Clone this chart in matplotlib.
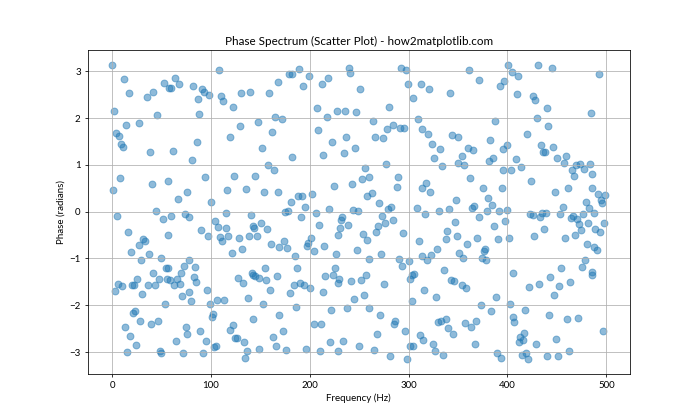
import matplotlib
matplotlib.use("Agg")
import matplotlib.pyplot as plt

plt.rcParams['font.family'] = ['Lato', 'DejaVu Sans']

# 주파수(Hz)와 위상(rad) - 그림에서 읽은 값 (구간별)
freqs = [
    0, 12, 17, 2, 14, 27, 4, 7, 9, 11, 8, 1, 5, 16, 31, 33, 27, 19, 29, 6, 3, 10, 20, 22, 25, 30, 23, 21, 28, 13, 18, 24, 15,
    35, 41, 52, 58, 60, 64, 68, 45, 38, 62, 40, 57, 67, 76, 44, 51, 60, 74, 78, 37, 57, 49, 41, 54, 56, 73, 70, 78, 36,
    43, 47, 55, 59, 66, 63, 69, 71, 78, 53, 46, 39, 75, 76, 65, 48, 49, 72,
    108, 82, 91, 93, 98, 87, 110, 112, 122, 88, 86, 119, 81, 94, 123, 116, 100, 104, 107, 115, 90, 97, 109, 111, 117, 115,
    121, 84, 83, 85, 96, 80, 99, 106, 113, 102, 101, 122, 119, 124, 89, 95, 103, 105, 92,
    168, 130, 139, 159, 129, 148, 165, 162, 152, 158, 164, 145, 135, 154, 168, 140, 142, 144, 151, 157, 128, 138, 147, 131,
    161, 169, 127, 132, 141, 143, 145, 149, 155, 156, 160, 167, 137, 153, 169, 143, 126, 133, 163, 166, 136, 134, 149,
    179, 182, 189, 199, 193, 212, 207, 172, 208, 182, 213, 181, 188, 192, 202, 175, 178, 195, 191, 206, 209, 174, 177, 185,
    198, 197, 201, 204, 214, 187, 184, 190, 194, 200, 180, 213, 186, 215, 173, 204, 211, 176, 196, 210,
    240, 241, 218, 251, 227, 236, 247, 217, 222, 237, 235, 246, 256, 253, 260, 224, 243, 258, 219, 244, 249, 233, 232, 239,
    231, 229, 254, 258, 226, 248, 260, 225, 223, 230, 228, 242, 252, 257, 255, 245, 238, 221, 260, 220, 234, 229, 250,
    292, 297, 299, 304, 280, 264, 284, 291, 295, 278, 266, 274, 277, 289, 288, 263, 270, 273, 279, 282, 269, 267, 276, 284,
    294, 272, 290, 293, 300, 301, 303, 305, 275, 303, 271, 286, 285, 296, 268, 301, 304, 265, 281, 298,
    312, 321, 342, 309, 314, 320, 324, 332, 326, 334, 344, 350, 350, 318, 313, 322, 308, 317, 331, 341, 348, 347, 339, 338,
    349, 310, 314, 319, 323, 329, 351, 336, 343, 346, 316, 328, 330, 333, 338, 340, 345, 311, 315, 325, 327, 335,
    361, 371, 392, 396, 387, 382, 360, 365, 354, 356, 381, 385, 395, 395, 362, 375, 394, 380, 384, 364, 366, 371, 379, 391,
    397, 386, 390, 369, 359, 355, 376, 377, 374, 378, 354, 358, 388, 373, 383, 357, 368, 363, 367, 389, 393,
    401, 431, 405, 411, 410, 426, 428, 440, 430, 441, 420, 400, 434, 436, 438, 409, 414, 404, 424, 400, 423, 426, 433, 435,
    439, 437, 402, 427, 406, 422, 432, 443, 403, 418, 406, 407, 417, 413, 416, 412, 429, 442, 415, 419, 421, 440,
    445, 484, 446, 450, 459, 457, 465, 467, 469, 473, 477, 483, 486, 486, 448, 461, 479, 482, 456, 453, 464, 466, 470, 472,
    476, 481, 474, 488, 489, 458, 468, 480, 488, 478, 475, 454, 485, 486, 463, 452, 447, 460, 471, 449, 462, 451,
    493, 492, 499, 495, 496, 498, 494, 491, 497,
]
phases = [
    3.13, 2.83, 2.54, 2.16, 1.85, 1.89, 1.67, 1.62, 1.45, 1.39, 0.72, 0.46, -0.09, -0.43, -0.58, -0.63, -0.71, -0.86, -1.03,
    -1.54, -1.70, -1.58, -1.57, -1.56, -1.43, -1.75, -2.12, -2.17, -2.33, -2.46, -2.66, -2.84, -2.99,
    2.45, 2.56, 2.75, 2.64, 2.64, 2.86, 2.73, 2.07, 1.27, 1.30, 0.58, 0.66, 0.28, 0.42, 0.01, -0.16, -0.09, -0.05, -0.11,
    -0.90, -0.50, -1.00, -1.31, -1.20, -1.20, -1.16, -1.31, -1.04, -1.56, -1.57, -1.43, -1.43, -1.45, -1.43, -1.57, -1.55,
    -1.81, -1.71, -1.98, -2.33, -2.39, -2.47, -2.61, -2.76, -2.97, -3.01, -3.01,
    3.03, 2.69, 2.62, 2.56, 2.49, 2.41, 2.47, 2.36, 2.24, 2.09, 1.49, 1.60, 1.10, 0.73, 0.77, 0.46, 0.21, -0.19, -0.33,
    -0.35, -0.39, -0.52, -0.54, -0.63, -0.52, -0.03, -0.88, -1.18, -1.40, -1.50, -1.67, -1.91, -1.98, -1.89, -1.89, -2.18,
    -2.25, -2.42, -2.53, -2.69, -2.56, -2.76, -2.90, -2.88, -3.03,
    2.77, 2.54, 2.56, 2.54, 1.83, 1.92, 2.02, 1.70, 1.36, 1.00, 0.88, 0.76, 0.49, 0.41, 0.41, -0.07, -0.31, -0.36, -0.24,
    -0.37, -0.56, -0.53, -0.53, -0.80, -0.69, -0.75, -1.41, -1.52, -1.32, -1.36, -1.38, -1.41, -1.20, -1.46, -1.67, -1.37,
    -1.84, -1.97, -2.20, -2.29, -2.70, -2.78, -2.68, -2.87, -2.97, -3.13, -2.93,
    2.94, 2.94, 3.05, 2.90, 2.69, 2.73, 2.22, 1.98, 1.75, 1.17, 1.21, 0.21, 0.33, 0.33, 0.38, -0.01, 0.02, 0.10, -0.11,
    -0.03, -0.28, -0.63, -0.78, -0.95, -0.66, -0.73, -0.56, -0.84, -0.73, -1.20, -1.56, -1.52, -1.56, -1.63, -1.73, -1.71,
    -2.04, -1.37, -2.55, -2.41, -2.39, -2.95, -2.93, -2.97,
    3.06, 2.96, 2.86, 2.62, 2.15, 2.15, 2.13, 2.02, 1.49, 1.60, 1.25, 1.36, 0.93, 0.70, 0.74, 0.55, 0.58, 0.33, 0.06, 0.04,
    0.01, -0.11, -0.18, -0.28, -0.35, -0.50, -0.48, -0.61, -0.90, -0.82, -1.01, -1.20, -1.35, -1.43, -1.52, -1.48, -1.46,
    -1.35, -1.78, -1.87, -2.06, -2.10, -2.06, -2.78, -2.76, -2.97, -2.86,
    3.07, 3.03, 2.73, 2.43, 2.24, 1.94, 1.85, 1.79, 1.79, 1.77, 1.60, 1.57, 1.02, 0.74, 0.53, 0.40, 0.19, -0.09, 0.06, 0.10,
    -0.31, -0.43, -0.24, -0.17, -0.46, -0.90, -1.01, -1.16, -1.05, -1.44, -1.35, -1.33, -1.55, -1.91, -2.21, -2.34, -2.40,
    -2.55, -2.61, -2.86, -2.86, -2.96, -3.08, -3.14,
    2.73, 2.62, 2.54, 1.98, 1.77, 1.66, 1.45, 1.34, 1.15, 0.98, 1.64, 1.60, 1.04, 0.62, 0.51, 0.41, 0.08, -0.05, 0.01, 0.06,
    0.25, -0.22, -0.41, -0.58, -0.52, -0.63, -0.95, -1.03, -0.93, -0.80, -0.88, -1.25, -1.46, -1.48, -1.67, -1.82, -2.36,
    -2.34, -2.29, -2.49, -2.61, -2.64, -2.74, -2.83, -2.98, -3.06,
    3.03, 2.81, 2.69, 2.79, 1.94, 1.53, 1.36, 1.32, 1.19, 1.00, 1.08, 1.15, 1.34, 0.89, 0.72, 0.51, 0.51, 0.29, 0.14, 0.08,
    0.12, -0.11, 0.01, 0.01, -0.20, -0.31, -0.58, -0.56, -0.69, -0.99, -0.84, -0.80, -0.99, -1.03, -1.57, -1.63, -1.82,
    -1.99, -2.12, -2.38, -2.34, -2.47, -2.83, -3.02, -3.13,
    3.13, 3.13, 2.98, 2.90, 2.51, 2.47, 2.39, 2.22, 2.00, 1.83, 1.66, 1.42, 1.42, 1.27, 1.27, 1.13, 0.95, 0.89, 0.66, 0.04,
    -0.05, -0.07, -0.11, -0.03, -0.03, -0.37, -0.56, -0.52, -1.31, -1.61, -1.55, -1.40, -1.97, -2.10, -2.25, -2.36, -2.59,
    -2.68, -2.74, -2.78, -2.83, -2.21, -3.06, -3.02, -3.15, -3.08,
    3.07, 2.11, 1.38, 1.15, 1.19, 1.04, 0.89, 0.76, 1.00, 1.02, 0.91, 1.02, 0.80, 0.51, 0.41, 0.51, 0.21, 0.08, 0.10, -0.05,
    -0.14, -0.09, -0.16, -0.26, -0.05, -0.24, -0.39, -0.03, -0.38, -0.56, -0.50, -0.69, -0.75, -1.03, -1.18, -1.20, -1.29,
    -1.35, -1.50, -1.59, -1.78, -2.29, -2.27, -2.72, -2.98, -3.08,
    2.94, 0.38, 0.36, 0.25, 0.19, -0.24, -0.43, -0.82, -2.55,
]

fig, ax = plt.subplots(figsize=(10, 6), dpi=70)
ax.scatter(freqs, phases, s=50, alpha=0.5)
ax.set_title('Phase Spectrum (Scatter Plot) - how2matplotlib.com')
ax.set_xlabel('Frequency (Hz)')
ax.set_ylabel('Phase (radians)')
ax.grid(True)

fig.savefig('out.png', dpi=70)
